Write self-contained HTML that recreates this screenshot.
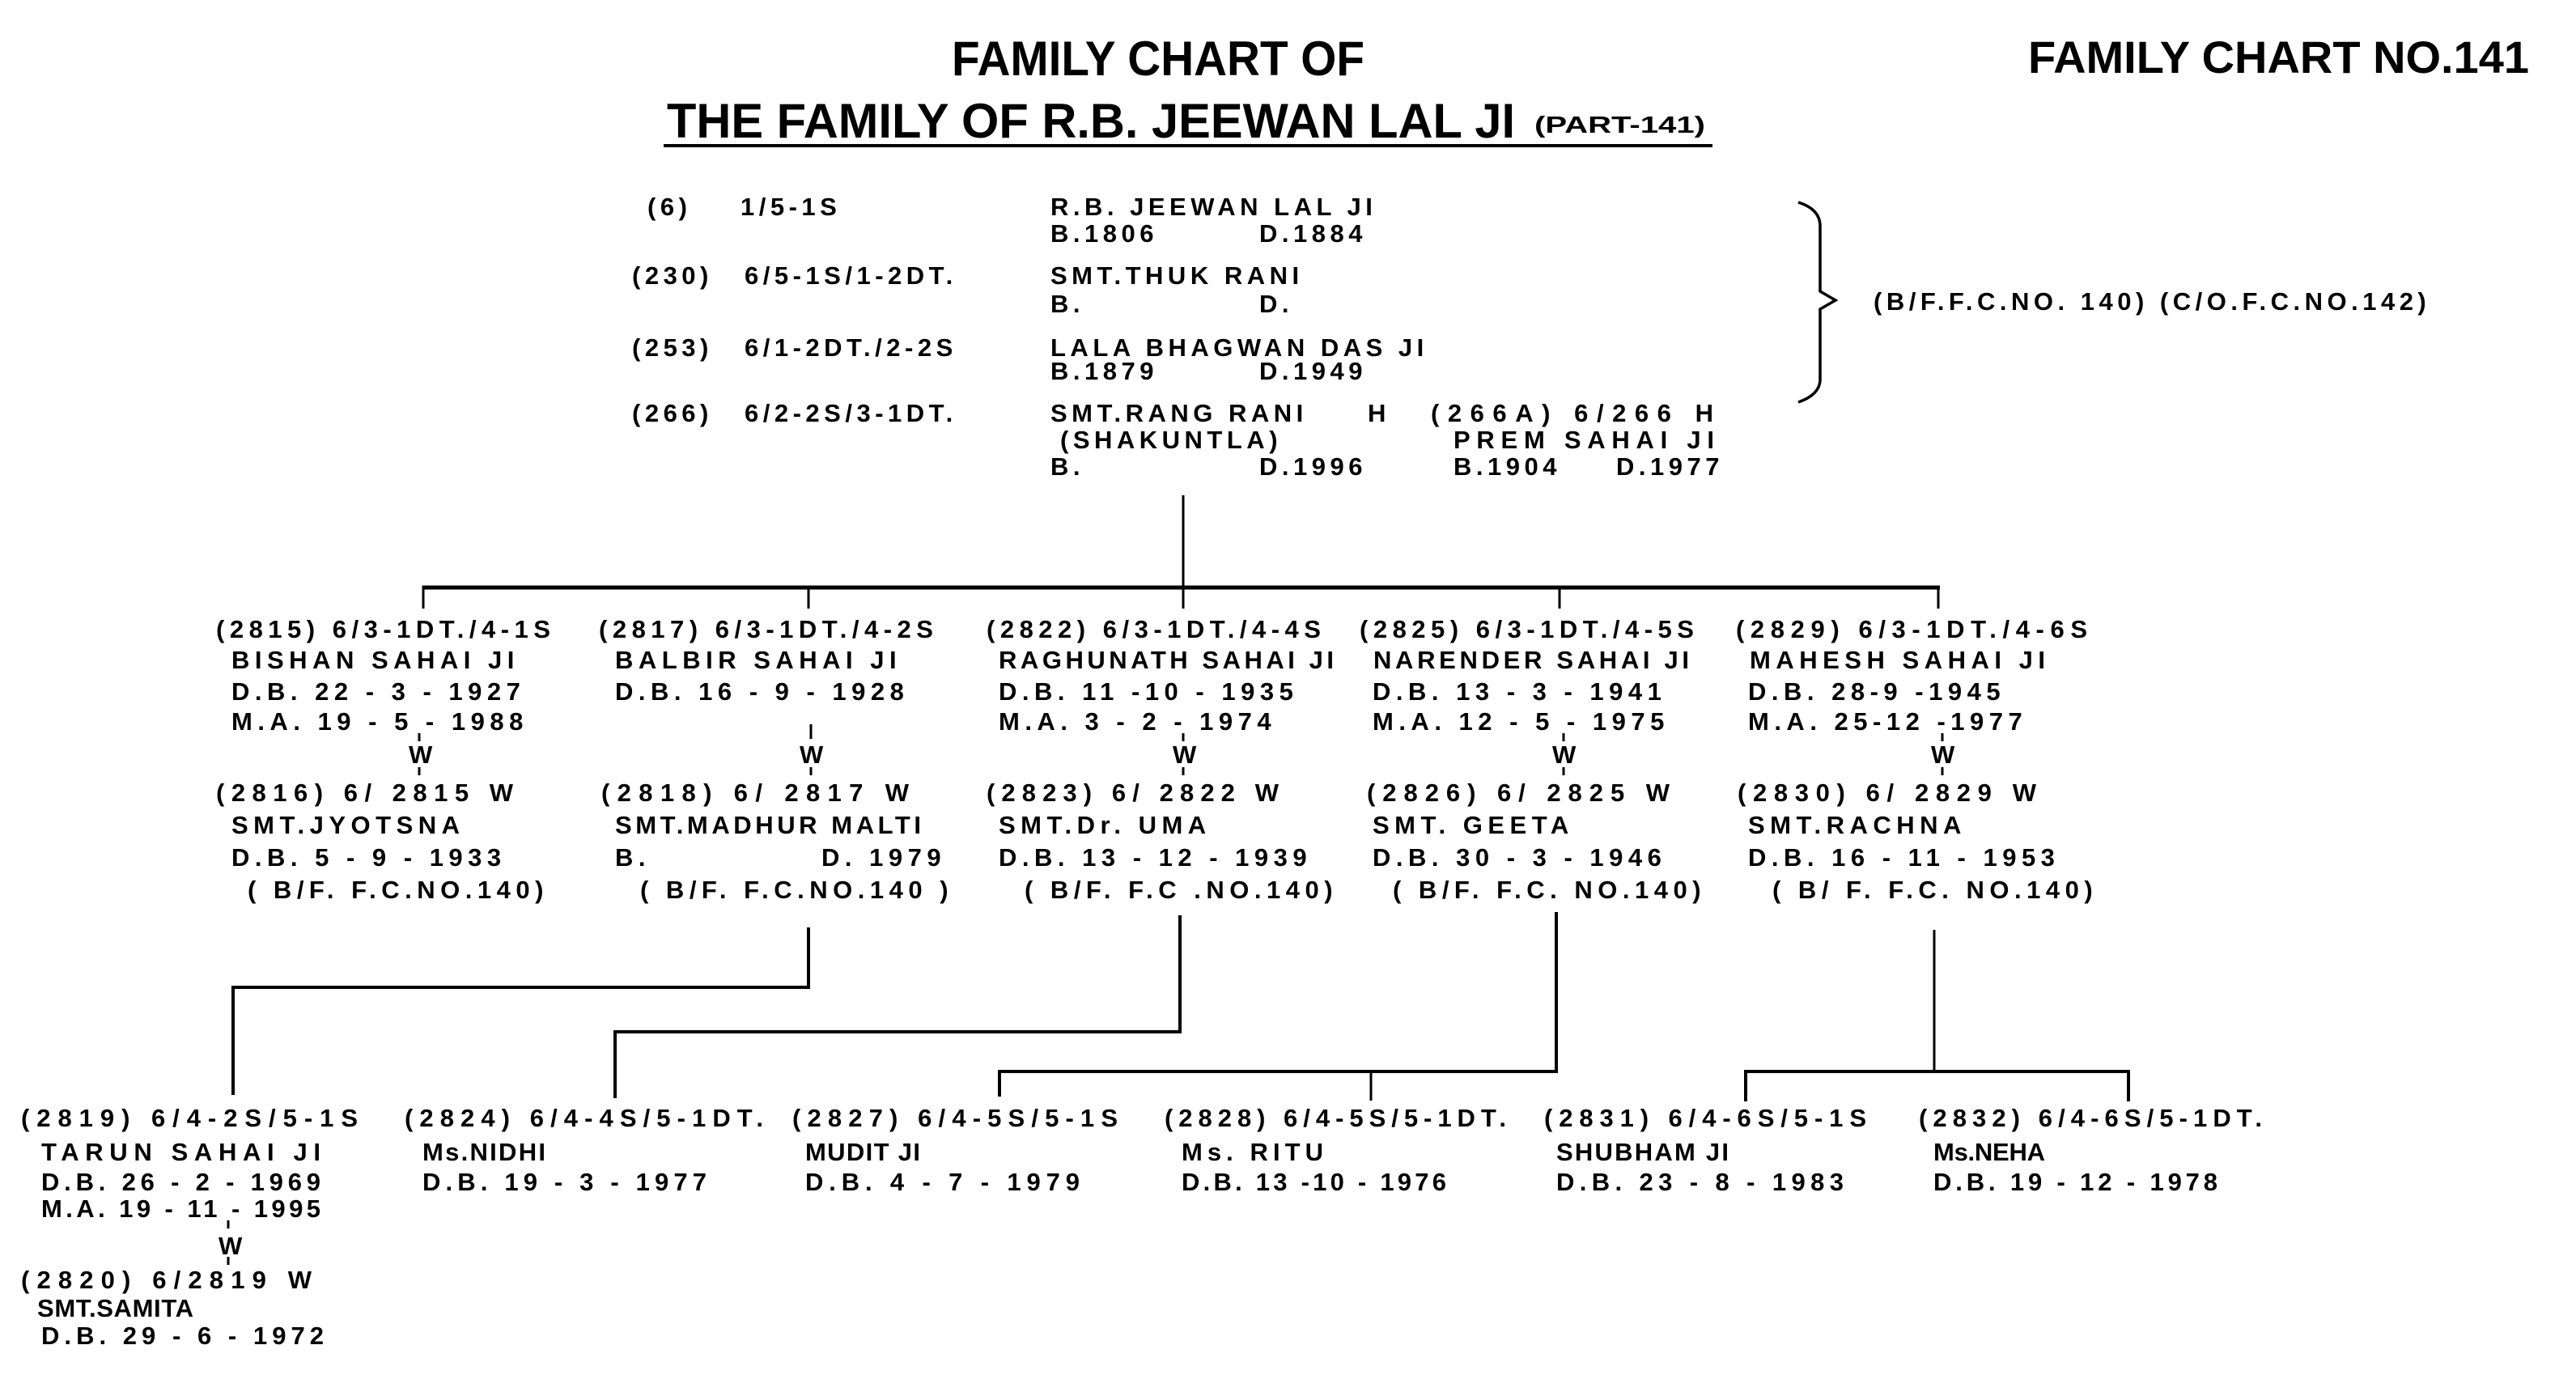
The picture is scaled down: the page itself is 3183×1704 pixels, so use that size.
<!DOCTYPE html>
<html><head><meta charset="utf-8">
<style>
html,body{margin:0;padding:0;background:#fff;}
svg{display:block;}
text{font-family:"Liberation Sans",Arial,sans-serif;font-weight:bold;fill:#000;}
.t{font-size:31px;letter-spacing:5.5px;}
.g{font-size:31px;letter-spacing:6.5px;}
.h{font-size:31px;}
.n{letter-spacing:0;}
</style></head>
<body>
<svg width="3183" height="1704" viewBox="0 0 3183 1704" xmlns="http://www.w3.org/2000/svg">
<rect width="3183" height="1704" fill="#fff"/>
<text x="1176" y="93" font-size="60" textLength="510" lengthAdjust="spacingAndGlyphs">FAMILY CHART OF</text>
<text x="824" y="170" font-size="60" textLength="1048" lengthAdjust="spacingAndGlyphs">THE FAMILY OF R.B. JEEWAN LAL JI</text>
<text x="1896" y="164" font-size="29" textLength="211" lengthAdjust="spacingAndGlyphs">(PART-141)</text>
<rect x="820" y="178" width="1296" height="4" fill="#000"/>
<text x="2506" y="90" font-size="56" textLength="619" lengthAdjust="spacingAndGlyphs">FAMILY CHART NO.141</text>

<g class="t">
<text x="800" y="266">(6)</text><text x="915" y="266">1/5-1S</text>
<text x="781" y="351">(230)</text><text x="920" y="351">6/5-1S/1-2DT.</text>
<text x="781" y="440">(253)</text><text x="920" y="440">6/1-2DT./2-2S</text>
<text x="781" y="521">(266)</text><text x="920" y="521">6/2-2S/3-1DT.</text>

<text x="1298" y="266">R.B. JEEWAN LAL JI</text>
<text x="1298" y="299">B.1806</text><text x="1556" y="299">D.1884</text>
<text x="1298" y="351">SMT.THUK RANI</text>
<text x="1298" y="386">B.</text><text x="1556" y="386">D.</text>
<text x="1298" y="440">LALA BHAGWAN DAS JI</text>
<text x="1298" y="469">B.1879</text><text x="1556" y="469">D.1949</text>
<text x="1298" y="521">SMT.RANG RANI</text><text x="1690" y="521">H</text>
<text class="n" x="1768" y="521" textLength="349">(266A) 6/266 H</text>
<text x="1310" y="554">(SHAKUNTLA)</text>
<text class="n" x="1796" y="554" textLength="322">PREM SAHAI JI</text>
<text x="1298" y="587">B.</text><text x="1556" y="587">D.1996</text>
<text x="1796" y="587">B.1904</text><text x="1997" y="587">D.1977</text>
<text x="2315" y="383">(B/F.F.C.NO. 140)  (C/O.F.C.NO.142)</text>
</g>
<path d="M2222 250 Q2248 258 2249 278 L2249 360 L2268 371 L2249 382 L2249 470 Q2248 488 2222 497" fill="none" stroke="#000" stroke-width="3.5"/>

<g stroke="#000" fill="none">
<line x1="1462" y1="612" x2="1462" y2="726" stroke-width="3"/>
<line x1="522" y1="726" x2="2397" y2="726" stroke-width="5"/>
<line x1="523" y1="724" x2="523" y2="752" stroke-width="3"/>
<line x1="999" y1="724" x2="999" y2="752" stroke-width="3"/>
<line x1="1462" y1="724" x2="1462" y2="752" stroke-width="3"/>
<line x1="1927" y1="724" x2="1927" y2="752" stroke-width="3"/>
<line x1="2395" y1="724" x2="2395" y2="752" stroke-width="3"/>
<line x1="518" y1="906" x2="518" y2="916" stroke-width="3"/><line x1="518" y1="948" x2="518" y2="958" stroke-width="3"/>
<line x1="1002" y1="895" x2="1002" y2="913" stroke-width="3"/><line x1="1002" y1="948" x2="1002" y2="958" stroke-width="3"/>
<line x1="1462" y1="906" x2="1462" y2="916" stroke-width="3"/><line x1="1462" y1="948" x2="1462" y2="958" stroke-width="3"/>
<line x1="1932" y1="906" x2="1932" y2="916" stroke-width="3"/><line x1="1932" y1="948" x2="1932" y2="958" stroke-width="3"/>
<line x1="2400" y1="906" x2="2400" y2="916" stroke-width="3"/><line x1="2400" y1="948" x2="2400" y2="958" stroke-width="3"/>
<line x1="282" y1="1508" x2="282" y2="1518" stroke-width="3"/><line x1="282" y1="1553" x2="282" y2="1563" stroke-width="3"/>

<polyline points="999,1146 999,1220 288,1220 288,1353" stroke-width="4"/>
<polyline points="1458,1131 1458,1275 760,1275 760,1357" stroke-width="4"/>
<polyline points="1923,1127 1923,1324 1235,1324 1235,1355" stroke-width="4"/>
<line x1="1694" y1="1324" x2="1694" y2="1360" stroke-width="3"/>
<line x1="2390" y1="1149" x2="2390" y2="1324" stroke-width="3"/>
<polyline points="2157,1361 2157,1324 2630,1324 2630,1361" stroke-width="4"/>
</g>

<g class="g">
<text x="267" y="788">(2815) 6/3-1DT./4-1S</text>
<text x="286" y="826">BISHAN SAHAI JI</text>
<text x="286" y="865">D.B. 22 - 3 - 1927</text>
<text x="286" y="902">M.A. 19 - 5 - 1988</text>
<text x="505" y="943">W</text>
<text class="n" x="267" y="990" textLength="367">(2816) 6/ 2815 W</text>
<text x="286" y="1030">SMT.JYOTSNA</text>
<text x="286" y="1070">D.B. 5 - 9 - 1933</text>
<text x="306" y="1110">( B/F. F.C.NO.140)</text>

<text x="740" y="788">(2817) 6/3-1DT./4-2S</text>
<text x="760" y="826">BALBIR SAHAI JI</text>
<text x="760" y="865">D.B. 16 - 9 - 1928</text>
<text x="988" y="943">W</text>
<text class="n" x="743" y="990" textLength="380">(2818) 6/ 2817 W</text>
<text class="n" x="760" y="1030" textLength="378">SMT.MADHUR MALTI</text>
<text x="760" y="1070">B.</text><text x="1015" y="1070">D. 1979</text>
<text x="791" y="1110">( B/F. F.C.NO.140 )</text>

<text x="1219" y="788">(2822) 6/3-1DT./4-4S</text>
<text class="n" x="1234" y="826" textLength="414">RAGHUNATH SAHAI JI</text>
<text x="1234" y="865">D.B. 11 -10 - 1935</text>
<text x="1234" y="902">M.A. 3 - 2 - 1974</text>
<text x="1449" y="943">W</text>
<text class="n" x="1219" y="990" textLength="361">(2823) 6/ 2822 W</text>
<text x="1234" y="1030">SMT.Dr. UMA</text>
<text x="1234" y="1070">D.B. 13 - 12 - 1939</text>
<text x="1266" y="1110">( B/F. F.C .NO.140)</text>

<text x="1680" y="788">(2825) 6/3-1DT./4-5S</text>
<text class="n" x="1697" y="826" textLength="390">NARENDER SAHAI JI</text>
<text x="1696" y="865">D.B. 13 - 3 - 1941</text>
<text x="1696" y="902">M.A. 12 - 5 - 1975</text>
<text x="1918" y="943">W</text>
<text class="n" x="1689" y="990" textLength="374">(2826) 6/ 2825 W</text>
<text x="1696" y="1030">SMT. GEETA</text>
<text x="1696" y="1070">D.B. 30 - 3 - 1946</text>
<text x="1721" y="1110">( B/F. F.C. NO.140)</text>

<text class="n" x="2145" y="788" textLength="434">(2829) 6/3-1DT./4-6S</text>
<text class="n" x="2162" y="826" textLength="365">MAHESH SAHAI JI</text>
<text x="2160" y="865">D.B. 28-9 -1945</text>
<text x="2160" y="902">M.A. 25-12 -1977</text>
<text x="2386" y="943">W</text>
<text class="n" x="2147" y="990" textLength="369">(2830) 6/ 2829 W</text>
<text x="2160" y="1030">SMT.RACHNA</text>
<text x="2160" y="1070">D.B. 16 - 11 - 1953</text>
<text x="2190" y="1110">( B/ F. F.C. NO.140)</text>
</g>

<g class="h">
<text x="26" y="1392" textLength="416">(2819) 6/4-2S/5-1S</text>
<text x="51" y="1434" textLength="345">TARUN SAHAI JI</text>
<text x="51" y="1471" textLength="345">D.B. 26 - 2 - 1969</text>
<text x="51" y="1504" textLength="345">M.A. 19 - 11 - 1995</text>
<text x="270" y="1550">W</text>
<text x="26" y="1592" textLength="359">(2820) 6/2819 W</text>
<text x="46" y="1627" textLength="193">SMT.SAMITA</text>
<text x="51" y="1661" textLength="349">D.B. 29 - 6 - 1972</text>

<text x="500" y="1392" textLength="443">(2824) 6/4-4S/5-1DT.</text>
<text x="522" y="1434" textLength="152">Ms.NIDHI</text>
<text x="522" y="1471" textLength="351">D.B. 19 - 3 - 1977</text>

<text x="979" y="1392" textLength="402">(2827) 6/4-5S/5-1S</text>
<text x="995" y="1434" textLength="142">MUDIT JI</text>
<text x="995" y="1471" textLength="339">D.B. 4 - 7 - 1979</text>

<text x="1439" y="1392" textLength="422">(2828) 6/4-5S/5-1DT.</text>
<text x="1460" y="1434" textLength="175">Ms. RITU</text>
<text x="1460" y="1471" textLength="327">D.B. 13 -10 - 1976</text>

<text x="1908" y="1392" textLength="398">(2831) 6/4-6S/5-1S</text>
<text x="1923" y="1434" textLength="213">SHUBHAM JI</text>
<text x="1923" y="1471" textLength="355">D.B. 23 - 8 - 1983</text>

<text x="2371" y="1392" textLength="424">(2832) 6/4-6S/5-1DT.</text>
<text x="2389" y="1434" textLength="138">Ms.NEHA</text>
<text x="2389" y="1471" textLength="351">D.B. 19 - 12 - 1978</text>
</g>
</svg>
</body></html>
